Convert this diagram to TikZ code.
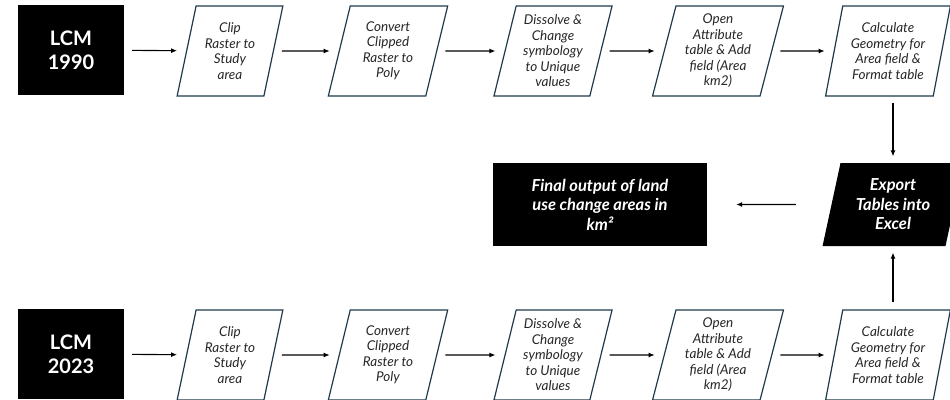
\documentclass[tikz,border=0pt]{standalone}
\usepackage{fontspec}
\setmainfont{Lato}
\usetikzlibrary{arrows.meta,positioning,shapes.geometric}
\definecolor{slate}{HTML}{1F3A4B}

\begin{document}
\begin{tikzpicture}[x=1pt,y=-1pt,font=\itshape\fontsize{13.5}{15.5}\selectfont,proc/.style={trapezium,trapezium left angle=76,trapezium right angle=104,trapezium stretches=true,draw=slate,line width=1.2pt,align=center,minimum height=90pt,inner sep=0pt,text=black!85},src/.style={fill=black,text=white,align=center,minimum width=106pt,minimum height=90pt,font=\bfseries\fontsize{20}{24}\selectfont},outbox/.style={fill=black,text=white,align=center,font=\bfseries\itshape\fontsize{16.5}{19.5}\selectfont},arr/.style={-{Latex[length=6pt,width=5pt]},line width=1.1pt,shorten >=9pt,shorten <=8pt}]
\useasboundingbox (0,0) rectangle (950,399);
\clip (0,0) rectangle (950,399);
% 1990 chain
\node[src] (lcmA) at (71,50) {LCM\\1990};
\node[proc,minimum width=106pt] (clipA) at (230,51) {Clip\\Raster to\\Study\\area};
\node[proc,minimum width=120pt] (polyA) at (388,51) {Convert\\Clipped\\Raster to\\Poly};
\node[proc,minimum width=119pt] (dissA) at (553,51) {Dissolve \&\\Change\\symbology\\to Unique\\values};
\node[proc,minimum width=131pt] (fieldA) at (718,51) {Open\\Attribute\\table \& Add\\field (Area\\km2)};
\node[proc,minimum width=125pt] (calcA) at (888,51) {Calculate\\Geometry for\\Area field \&\\Format table};
\draw[arr] (lcmA)--(clipA);\draw[arr] (clipA)--(polyA);\draw[arr] (polyA)--(dissA);\draw[arr] (dissA)--(fieldA);\draw[arr] (fieldA)--(calcA);
% 2023 chain
\node[src] (lcmB) at (71,354) {LCM\\2023};
\node[proc,minimum width=106pt] (clipB) at (230,355) {Clip\\Raster to\\Study\\area};
\node[proc,minimum width=120pt] (polyB) at (388,355) {Convert\\Clipped\\Raster to\\Poly};
\node[proc,minimum width=119pt] (dissB) at (553,355) {Dissolve \&\\Change\\symbology\\to Unique\\values};
\node[proc,minimum width=131pt] (fieldB) at (718,355) {Open\\Attribute\\table \& Add\\field (Area\\km2)};
\node[proc,minimum width=125pt] (calcB) at (888,355) {Calculate\\Geometry for\\Area field \&\\Format table};
\draw[arr] (lcmB)--(clipB);\draw[arr] (clipB)--(polyB);\draw[arr] (polyB)--(dissB);\draw[arr] (dissB)--(fieldB);\draw[arr] (fieldB)--(calcB);
% output
\node[proc,fill=black,text=white,draw=none,minimum width=141pt,minimum height=83pt,font=\bfseries\itshape\fontsize{16.5}{19.5}\selectfont] (export) at (893,204.5) {Export\\Tables into\\Excel};
\node[outbox,minimum width=214pt,minimum height=83pt] (final) at (600,204.5) {Final output of land\\use change areas in\\km²};
\draw[arr,shorten <=6pt,shorten >=6pt] (calcA.south -| export.north)--(export.north);
\draw[arr,shorten <=7pt,shorten >=6pt] (calcB.north -| export.south)--(export.south);
\draw[arr,shorten <=35pt,shorten >=29pt] (export)--(final);
\end{tikzpicture}
\end{document}
